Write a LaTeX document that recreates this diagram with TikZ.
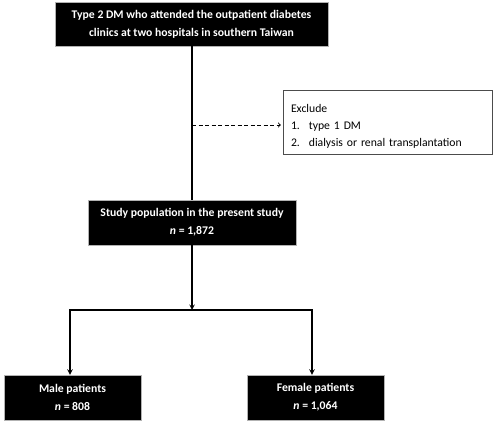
\documentclass[tikz,border=0pt]{standalone}
\usepackage{fontspec}
\setmainfont{Carlito}
\usetikzlibrary{positioning}

\tikzset{
    blackbox/.style={fill=black, draw=gray!60, text=white, font=\bfseries\fontsize{11.7}{18}\selectfont, align=center, inner sep=0pt},
    excludebox/.style={draw=black!70, fill=white, font=\fontsize{11.7}{17}\selectfont, align=left, inner sep=0pt, text width=193pt, minimum width=209pt, minimum height=64pt},
}

\begin{document}
\begin{tikzpicture}[x=1pt, y=-1pt]
            \useasboundingbox (0,0) rectangle (499,423);
            \node[blackbox, minimum width=273pt, minimum height=44pt] (source) at (191.5,24) {Type 2 DM who attended the outpatient diabetes\\clinics at two hospitals in southern Taiwan};
            \node[excludebox] (exclude) at (387.5,122) {\rule{0pt}{16.5pt}Exclude\\1.\hspace{9pt}type 1 DM\\2.\hspace{9pt}dialysis or renal transplantation};
            \node[blackbox, minimum width=208pt, minimum height=45pt] (study) at (192,222.5) {Study population in the present study\\\textit{n} = 1,872};
            \node[blackbox, minimum width=137pt, minimum height=45pt] (male) at (72.5,397.5) {Male patients\\\textit{n} = 808};
            \node[blackbox, minimum width=137pt, minimum height=45pt] (female) at (315.5,397.5) {Female patients\\\textit{n} = 1,064};
            \coordinate (split) at (192,310);
            \coordinate (excl) at (192,125);
            \draw[black, line width=1.4pt] (source.south -| split) -- (study.north -| split);
            \draw[black, line width=0.9pt, dash pattern=on 4pt off 2.5pt, ->] (excl) -- ([xshift=-2pt]exclude.west |- excl);
            \draw[black, line width=1.4pt, -stealth] (study.south -| split) -- (split);
            \draw[black, line width=1.4pt, -stealth] (split) -| ([xshift=-2.5pt]male.north);
            \draw[black, line width=1.4pt, -stealth] (split) -| ([xshift=-3.5pt]female.north);
        \end{tikzpicture}
\end{document}
